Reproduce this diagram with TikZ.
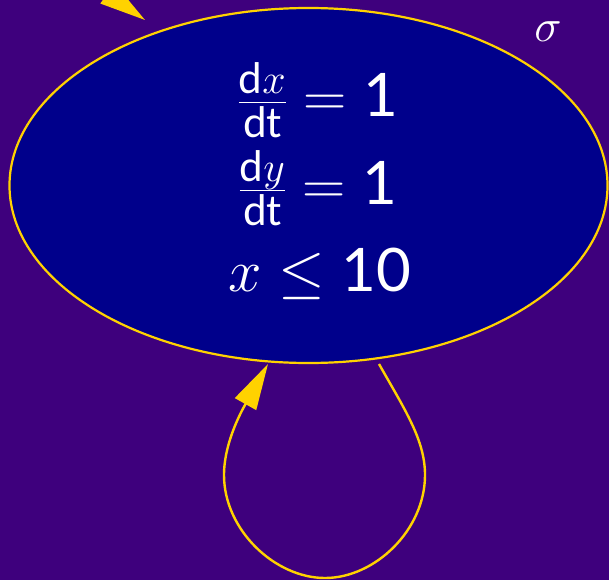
\documentclass[tikz,border=0pt]{standalone}
\usepackage{fix-cm}
\usepackage{fontspec}
\setmainfont{Lato}
\usetikzlibrary{arrows.meta,shapes.geometric}
\definecolor{bgpurple}{RGB}{62,0,125}
\definecolor{nodeblue}{RGB}{0,0,139}
\definecolor{edgegold}{RGB}{255,210,0}
\tikzset{
  statenode/.style={ellipse, draw=edgegold, fill=nodeblue, line width=2.2pt,
    minimum width=598pt, minimum height=355pt, inner sep=0pt},
  edgeline/.style={draw=edgegold, line width=2.4pt,
    -{Triangle[length=46pt,width=24pt]}},
  lbl/.style={text=white, font=\fontsize{60}{72}\selectfont}
}
\begin{document}
\begin{tikzpicture}[x=1pt,y=-1pt]
\fill[bgpurple] (0,0) rectangle (609,580);
\useasboundingbox (0,0) rectangle (609,580);
\clip (0,0) rectangle (609,580);
\node[statenode] (s) at (308.5,185.5) {};
\node[lbl] (e1) at (318,100) {$\frac{\mathrm{d}x}{\mathrm{dt}}=\mathrm{1}$};
\node[lbl] (e2) at (318,188) {$\frac{\mathrm{d}y}{\mathrm{dt}}=\mathrm{1}$};
\node[lbl] (e3) at (320,274) {$x\leq \mathrm{10}$};
\node[lbl, font=\fontsize{46}{54}\selectfont] (sig) at (548,32) {$\sigma$};
\coordinate (src) at (60,-40);
\coordinate (tip1) at (145,20);
\draw[edgeline] (src) -- (tip1);
\coordinate (ls) at (379,364);
\coordinate (lt) at (268,364);
\draw[edgeline] (ls) .. controls (405,410) and (425,440) .. (425,475)
  .. controls (425,530) and (375,578) .. (325,578)
  .. controls (275,578) and (224,530) .. (224,475)
  .. controls (224,440) and (245,405) .. (lt);
\end{tikzpicture}
\end{document}
